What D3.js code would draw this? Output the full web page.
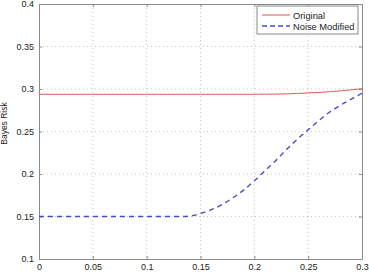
<!DOCTYPE html>
<html>
<head>
<meta charset="utf-8">
<script src="https://cdn.jsdelivr.net/npm/d3@7"></script>
<style>
  body { margin: 0; background: #fff; }
  svg { display: block; font-family: "Liberation Sans", Arial, sans-serif; }
  .grid line { stroke: #c4c4c4; stroke-dasharray: 1,3; stroke-width: 1; }
  .tick text { fill: #222; font-size: 9px; }
</style>
</head>
<body>
<svg id="chart" width="369" height="276"></svg>
<script>
// values
const xTicks = [0, 0.05, 0.1, 0.15, 0.2, 0.25, 0.3];
const yTicks = [0.1, 0.15, 0.2, 0.25, 0.3, 0.35, 0.4];

const xs = [0, 0.05, 0.1, 0.13, 0.14, 0.15, 0.16, 0.17, 0.18, 0.19, 0.2, 0.21, 0.22, 0.23, 0.24, 0.25, 0.26, 0.27, 0.28, 0.29, 0.3];
const original = [0.2938, 0.2938, 0.2938, 0.2938, 0.2938, 0.2938, 0.2938, 0.2938, 0.2938, 0.2938, 0.2938, 0.2939, 0.294, 0.2943, 0.2948, 0.2954, 0.296, 0.2968, 0.2978, 0.299, 0.3003];
const noiseModified = [0.15, 0.15, 0.15, 0.15, 0.1505, 0.1535, 0.158, 0.164, 0.172, 0.181, 0.192, 0.204, 0.216, 0.229, 0.241, 0.252, 0.263, 0.273, 0.281, 0.288, 0.295];

const seriesNames = ["Original", "Noise Modified"];

const svg = d3.select("#chart");
const margin = {left: 39, right: 7, top: 4, bottom: 17};
const W = 369, H = 276;

let x = d3.scaleLinear().domain([0, 0.3]).range([margin.left, W - margin.right]);
let y = d3.scaleLinear().domain([0.1, 0.4]).range([H - margin.bottom, margin.top]);

// grid
svg.append("g").attr("class", "grid")
    .selectAll("line").data(xTicks.slice(1, -1)).enter().append("line")
    .attr("x1", d => x(d)).attr("x2", d => x(d))
    .attr("y1", y(0.4)).attr("y2", y(0.1));
svg.append("g").attr("class", "grid")
    .selectAll("line").data(yTicks.slice(1, -1)).enter().append("line")
    .attr("x1", x(0)).attr("x2", x(0.3))
    .attr("y1", d => y(d)).attr("y2", d => y(d));

// axes, ticks pointing inward like matlab
const fmt = d => d3.format("")(+d.toFixed(2));
svg.append("g").attr("transform", `translate(0,${y(0.1)})`)
    .call(d3.axisBottom(x).tickValues(xTicks).tickFormat(fmt).tickSizeInner(-3).tickSizeOuter(0).tickPadding(5));
svg.append("g").attr("transform", `translate(${x(0)},0)`)
    .call(d3.axisLeft(y).tickValues(yTicks).tickFormat(fmt).tickSizeInner(-3).tickSizeOuter(0).tickPadding(5));
svg.append("g").attr("transform", `translate(0,${y(0.4)})`)
    .call(d3.axisTop(x).tickValues(xTicks).tickFormat("").tickSizeInner(-3).tickSizeOuter(0));
svg.append("g").attr("transform", `translate(${x(0.3)},0)`)
    .call(d3.axisRight(y).tickValues(yTicks).tickFormat("").tickSizeInner(-3).tickSizeOuter(0));
svg.selectAll(".domain, .tick line").attr("stroke", "#8a8a8a");

// y label
svg.append("text")
    .attr("transform", `translate(7,${(y(0.1) + y(0.4)) / 2 - 8}) rotate(-90)`)
    .attr("text-anchor", "middle")
    .attr("font-size", 8.5)
    .attr("fill", "#222")
    .text("Bayes Risk");

// lines
let line = d3.line().x((d, i) => x(xs[i])).y(d => y(d)).curve(d3.curveMonotoneX);
svg.append("path").datum(original)
    .attr("d", line)
    .attr("fill", "none").attr("stroke", "#e05a5a").attr("stroke-width", 1);
svg.append("path").datum(noiseModified)
    .attr("d", line)
    .attr("fill", "none").attr("stroke", "#4a4ad0").attr("stroke-width", 1.4)
    .attr("stroke-dasharray", "5,4");

// legend
let lg = svg.append("g").attr("transform", "translate(257,6)");
lg.append("rect").attr("width", 101).attr("height", 28)
    .attr("fill", "#fff").attr("stroke", "#8a8a8a");
const styles = [{c: "#e05a5a", w: 1, dash: null}, {c: "#4a4ad0", w: 1.4, dash: "5,3"}];
seriesNames.forEach((name, i) => {
    lg.append("line")
        .attr("x1", 5).attr("x2", 33)
        .attr("y1", 9 + i * 11).attr("y2", 9 + i * 11)
        .attr("stroke", styles[i].c).attr("stroke-width", styles[i].w)
        .attr("stroke-dasharray", styles[i].dash);
    lg.append("text")
        .attr("x", 36).attr("y", 12.5 + i * 11)
        .attr("font-size", 9.3).attr("fill", "#222")
        .text(name);
});
</script>
</body>
</html>
